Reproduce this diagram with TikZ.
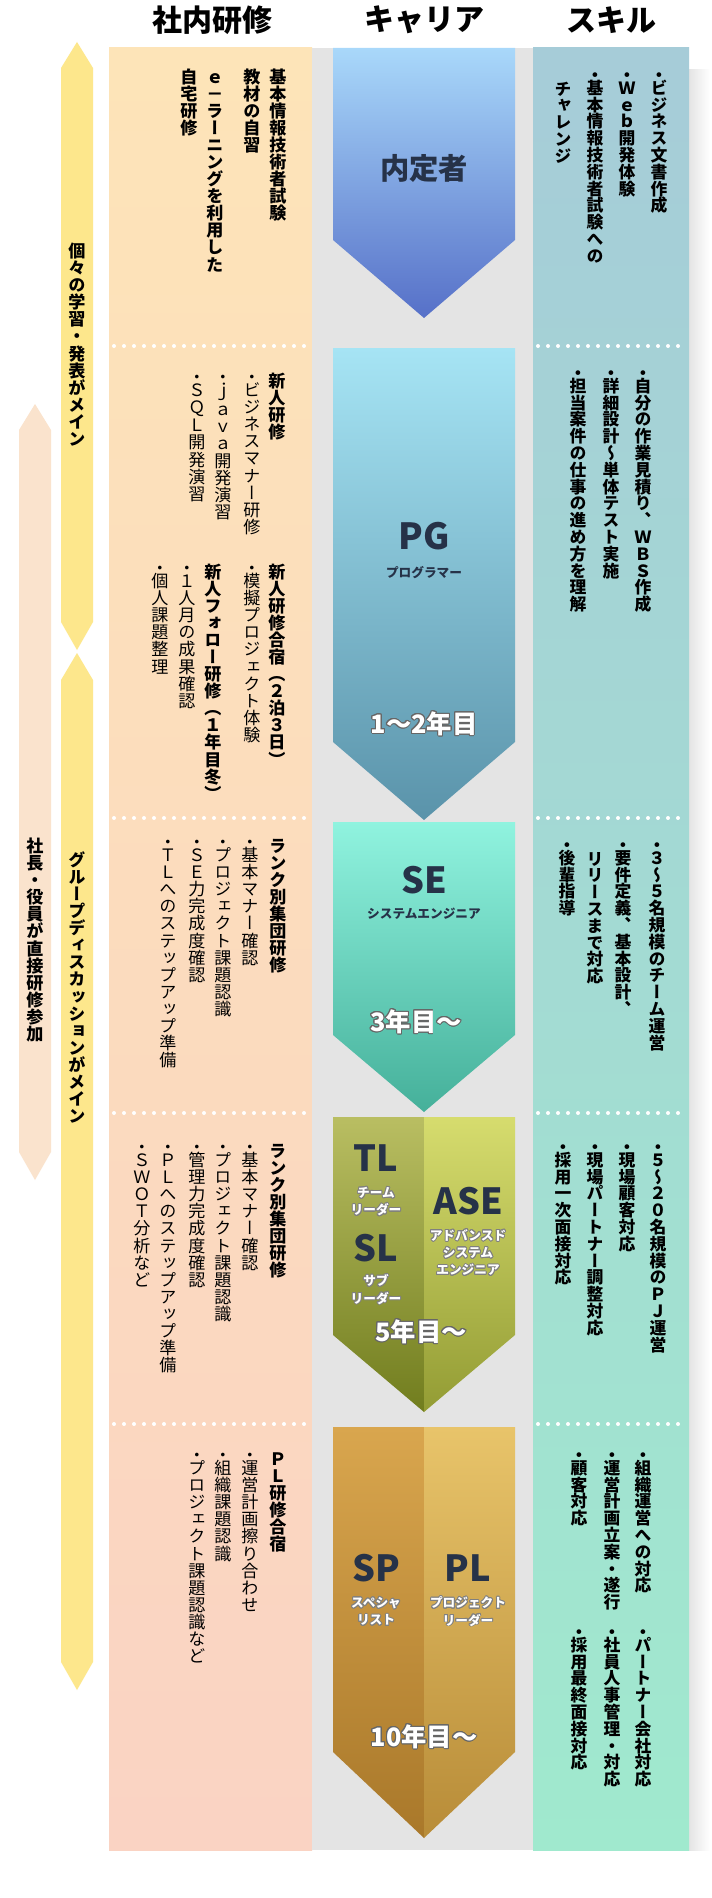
\documentclass[tikz,border=0pt]{standalone}
\usepackage{fontspec}
\setmainfont{Noto Sans CJK JP}
\newfontfamily\vfont[Script=CJK,RawFeature=+vert]{Noto Sans CJK JP}
\usepackage{contour}
\contourlength{0.7pt}
\ExplSyntaxOn
\tl_new:N \l__vs_rest_tl
\cs_new_protected:Npn \__vs_cell:n #1
  { \hbox_to_wd:nn {1em} { \hss \vrule height 0.88em depth 0.12em width 0pt #1 \hss } }
\NewDocumentCommand \vstack { m }
  {
    \vbox
      {
        \offinterlineskip
        \tl_if_head_eq_charcode:nNTF {#1} ・
          {
            \hbox_to_wd:nn {1em} { \hss \vrule height 0.55em depth 0pt width 0pt \smash{\raisebox{-0.1em}{・}} \hss }
            \tl_set:Nx \l__vs_rest_tl { \tl_tail:n {#1} }
          }
          { \tl_set:Nn \l__vs_rest_tl {#1} }
        \tl_map_function:NN \l__vs_rest_tl \__vs_cell:n
      }
  }
\ExplSyntaxOff
\definecolor{yelbar}{HTML}{FDE78C}
\definecolor{peachbar}{HTML}{FAE3CD}
\definecolor{lefttop}{HTML}{FDE4B8}
\definecolor{leftbot}{HTML}{FAD3C3}
\definecolor{righttop}{HTML}{A6CCD8}
\definecolor{rightbot}{HTML}{A0E9CE}
\definecolor{shadowgray}{HTML}{E4E4E4}
\definecolor{cdark}{HTML}{263248}
\definecolor{aOneTop}{HTML}{A9D8FA}
\definecolor{aOneBot}{HTML}{5670C8}
\definecolor{aTwoTop}{HTML}{A6E4F4}
\definecolor{aTwoBot}{HTML}{5A93AA}
\definecolor{aThreeTop}{HTML}{90F3DF}
\definecolor{aThreeBot}{HTML}{45B09A}
\definecolor{aFourLTop}{HTML}{B9BE62}
\definecolor{aFourLBot}{HTML}{717D1E}
\definecolor{aFourRTop}{HTML}{D6DC6E}
\definecolor{aFourRBot}{HTML}{939C34}
\definecolor{aFiveLTop}{HTML}{D9A64E}
\definecolor{aFiveLBot}{HTML}{A9782A}
\definecolor{aFiveRTop}{HTML}{E8C46A}
\definecolor{aFiveRBot}{HTML}{B88C38}
\begin{document}
\begin{tikzpicture}[x=0.75pt,y=-0.75pt,
  hdr/.style={font=\bfseries\fontsize{22.5}{26}\selectfont, text=black, inner sep=0pt},
  vt/.style={anchor=north, inner sep=0pt, text=black, font=\vfont\fontsize{12.8}{15}\selectfont},
  vtb/.style={vt, font=\vfont\bfseries\fontsize{12.8}{15}\selectfont},
  sk/.style={vt, font=\vfont\bfseries\fontsize{12.6}{15}\selectfont},
  barlbl/.style={anchor=center, inner sep=0pt, text=black, font=\vfont\bfseries\fontsize{12.8}{15}\selectfont},
  big/.style={font=\bfseries\fontsize{22}{26}\selectfont, text=cdark, inner sep=0pt},
  bigr/.style={font=\bfseries\fontsize{27}{30}\selectfont, text=cdark, inner sep=0pt},
  subd/.style={font=\bfseries\fontsize{9.5}{13}\selectfont, text=cdark, inner sep=0pt, align=center},
  subw/.style={font=\bfseries\fontsize{9.5}{13}\selectfont, text=white, inner sep=0pt, align=center},
  yr/.style={font=\bfseries\fontsize{19}{22}\selectfont, text=white, inner sep=0pt},
  sep/.style={white, line width=3pt, line cap=round, dash pattern=on 0pt off 7.5pt}
]
\useasboundingbox (0,0) rectangle (712,1898);
\fill[white] (0,0) rectangle (712,1898);

% headers
\node[hdr] (h1) at (212,20) {社内研修};
\node[hdr] (h2) at (424,20) {キャリア};
\node[hdr] (h3) at (611,20) {スキル};

% side bars
\fill[yelbar] (77,42) -- (93,68) -- (93,622) -- (77,650) -- (61,622) -- (61,68) -- cycle;
\fill[yelbar] (77,653) -- (93,680) -- (93,1662) -- (77,1690) -- (61,1662) -- (61,680) -- cycle;
\fill[peachbar] (35,404) -- (51,430) -- (51,1152) -- (35,1180) -- (19,1152) -- (19,430) -- cycle;
\node[barlbl] (b1) at (77,345) {\vstack{個々の学習・発表がメイン}};
\node[barlbl] (b2) at (77,988) {\vstack{グループディスカッションがメイン}};
\node[barlbl] (b3) at (35,940) {\vstack{社長・役員が直接研修参加}};

% column backgrounds
\shade[top color=lefttop, bottom color=leftbot] (109,48) rectangle (312,1850);
\fill[shadowgray] (312,48) rectangle (533,1850);
\shade[left color=shadowgray, right color=white] (689,70) rectangle (710,1850);
\shade[top color=righttop, bottom color=rightbot] (533,48) rectangle (689,1850);

% separators
\foreach \yy in {346,818,1113,1424}{
  \draw[sep] (114,\yy) -- (310,\yy);
  \draw[sep] (538,\yy) -- (688,\yy);
}

% career arrows
\shade[top color=aOneTop, bottom color=aOneBot] (333,48) -- (515,48) -- (515,240) -- (424,318) -- (333,240) -- cycle;
\shade[top color=aTwoTop, bottom color=aTwoBot] (333,348) -- (515,348) -- (515,742) -- (424,820) -- (333,742) -- cycle;
\shade[top color=aThreeTop, bottom color=aThreeBot] (333,822) -- (515,822) -- (515,1035) -- (424,1112) -- (333,1035) -- cycle;
\shade[top color=aFourLTop, bottom color=aFourLBot] (333,1117) -- (424,1117) -- (424,1412) -- (333,1335) -- cycle;
\shade[top color=aFourRTop, bottom color=aFourRBot] (424,1117) -- (515,1117) -- (515,1335) -- (424,1412) -- cycle;
\shade[top color=aFiveLTop, bottom color=aFiveLBot] (333,1427) -- (424,1427) -- (424,1838) -- (333,1752) -- cycle;
\shade[top color=aFiveRTop, bottom color=aFiveRBot] (424,1427) -- (515,1427) -- (515,1752) -- (424,1838) -- cycle;

% career labels
\node[big] (c1) at (424,168) {内定者};
\node[bigr] (c2) at (424,536) {PG};
\node[subd] (c2s) at (424,573) {プログラマー};
\node[yr] (c2y) at (424,724) {\contour{black!60}{1～2年目}};
\node[bigr] (c3) at (424,880) {SE};
\node[subd] (c3s) at (424,914) {システムエンジニア};
\node[yr] (c3y) at (416,1022) {\contour{black!60}{3年目～}};
\node[bigr] (c4a) at (376,1158) {TL};
\node[subw] (c4as) at (376,1202) {\contour{black!50}{チーム}\\\contour{black!50}{リーダー}};
\node[bigr] (c4b) at (376,1248) {SL};
\node[subw] (c4bs) at (376,1290) {\contour{black!50}{サブ}\\\contour{black!50}{リーダー}};
\node[bigr] (c4c) at (468,1201) {ASE};
\node[subw] (c4cs) at (468,1253) {\contour{black!50}{アドバンスド}\\\contour{black!50}{システム}\\\contour{black!50}{エンジニア}};
\node[yr] (c4y) at (421,1332) {\contour{black!60}{5年目～}};
\node[bigr] (c5a) at (376,1568) {SP};
\node[subw] (c5as) at (376,1612) {\contour{black!50}{スペシャ}\\\contour{black!50}{リスト}};
\node[bigr] (c5b) at (468,1568) {PL};
\node[subw] (c5bs) at (468,1612) {\contour{black!50}{プロジェクト}\\\contour{black!50}{リーダー}};
\node[yr] (c5y) at (424,1737) {\contour{black!60}{10年目～}};

% left column texts
\node[vtb] (l11) at (278,68) {\vstack{基本情報技術者試験}};
\node[vtb] (l12) at (252,68) {\vstack{教材の自習}};
\node[vtb] (l13) at (215,68) {\vstack{ｅ－ラーニングを利用した}};
\node[vtb] (l14) at (189,68) {\vstack{自宅研修}};

\node[vtb] (l21) at (277,372) {\vstack{新人研修}};
\node[vt] (l22) at (252,372) {\vstack{・ビジネスマナー研修}};
\node[vt] (l23) at (223,372) {\vstack{・ｊａｖａ開発演習}};
\node[vt] (l24) at (197,372) {\vstack{・ＳＱＬ開発演習}};
\node[vtb] (l25) at (277,563) {\vstack{新人研修合宿（２泊３日）}};
\node[vt] (l26) at (252,563) {\vstack{・模擬プロジェクト体験}};
\node[vtb] (l27) at (213,563) {\vstack{新人フォロー研修（１年目冬）}};
\node[vt] (l28) at (187,563) {\vstack{・１人月の成果確認}};
\node[vt] (l29) at (160,563) {\vstack{・個人課題整理}};

\node[vtb] (l31) at (278,837) {\vstack{ランク別集団研修}};
\node[vt] (l32) at (250,837) {\vstack{・基本マナー確認}};
\node[vt] (l33) at (223,837) {\vstack{・プロジェクト課題認識}};
\node[vt] (l34) at (197,837) {\vstack{・ＳＥ力完成度確認}};
\node[vt] (l35) at (168,837) {\vstack{・ＴＬへのステップアップ準備}};

\node[vtb] (l41) at (278,1142) {\vstack{ランク別集団研修}};
\node[vt] (l42) at (250,1142) {\vstack{・基本マナー確認}};
\node[vt] (l43) at (223,1142) {\vstack{・プロジェクト課題認識}};
\node[vt] (l44) at (197,1142) {\vstack{・管理力完成度確認}};
\node[vt] (l45) at (168,1142) {\vstack{・ＰＬへのステップアップ準備}};
\node[vt] (l46) at (142,1142) {\vstack{・ＳＷＯＴ分析など}};

\node[vtb] (l51) at (278,1450) {\vstack{ＰＬ研修合宿}};
\node[vt] (l52) at (250,1450) {\vstack{・運営計画擦り合わせ}};
\node[vt] (l53) at (223,1450) {\vstack{・組織課題認識}};
\node[vt] (l54) at (197,1450) {\vstack{・プロジェクト課題認識など}};

% skill column texts
\node[sk] (r11) at (659,70) {\vstack{・ビジネス文書作成}};
\node[sk] (r12) at (627,70) {\vstack{・Ｗｅｂ開発体験}};
\node[sk] (r13) at (595,70) {\vstack{・基本情報技術者試験への}};
\node[sk] (r14) at (563,80) {\vstack{チャレンジ}};

\node[sk] (r21) at (643,368) {\vstack{・自分の作業見積り、ＷＢＳ作成}};
\node[sk] (r22) at (611,368) {\vstack{・詳細設計～単体テスト実施}};
\node[sk] (r23) at (578,368) {\vstack{・担当案件の仕事の進め方を理解}};

\node[sk] (r31) at (657,840) {\vstack{・３～５名規模のチーム運営}};
\node[sk] (r32) at (623,840) {\vstack{・要件定義、基本設計、}};
\node[sk] (r33) at (595,850) {\vstack{リリースまで対応}};
\node[sk] (r34) at (567,840) {\vstack{・後輩指導}};

\node[sk] (r41) at (658,1142) {\vstack{・５～２０名規模のＰＪ運営}};
\node[sk] (r42) at (627,1142) {\vstack{・現場顧客対応}};
\node[sk] (r43) at (595,1142) {\vstack{・現場パートナー調整対応}};
\node[sk] (r44) at (563,1142) {\vstack{・採用一次面接対応}};

\node[sk] (r51) at (643,1450) {\vstack{・組織運営への対応}};
\node[sk] (r52) at (612,1450) {\vstack{・運営計画立案・遂行}};
\node[sk] (r53) at (579,1450) {\vstack{・顧客対応}};
\node[sk] (r54) at (643,1627) {\vstack{・パートナー会社対応}};
\node[sk] (r55) at (612,1627) {\vstack{・社員人事管理・対応}};
\node[sk] (r56) at (579,1627) {\vstack{・採用最終面接対応}};
\end{tikzpicture}
\end{document}
